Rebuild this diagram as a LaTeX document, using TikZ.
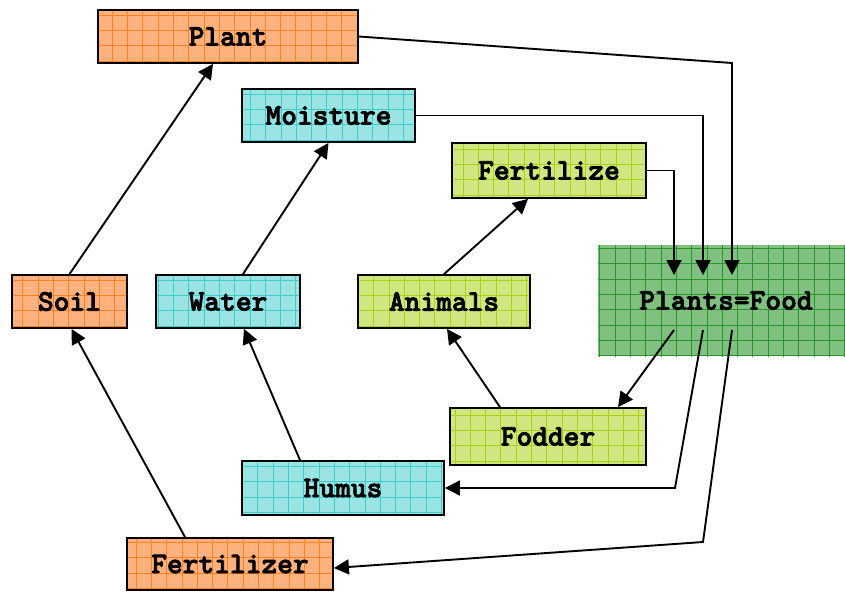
\documentclass[tikz,border=0pt]{standalone}
\usepackage{fontspec}
\newfontfamily\boxfont[FakeBold=2.5]{lmmonolt10-bold.otf}
\usetikzlibrary{arrows.meta,calc}
\definecolor{orfill}{RGB}{255,178,125}
\definecolor{orline}{RGB}{255,130,30}
\definecolor{cyfill}{RGB}{155,228,228}
\definecolor{cyline}{RGB}{60,205,205}
\definecolor{ygfill}{RGB}{208,230,128}
\definecolor{ygline}{RGB}{170,210,20}
\definecolor{grfill}{RGB}{128,192,128}
\definecolor{grline}{RGB}{40,150,40}
\tikzset{
  boxtext/.style={font=\boxfont\fontsize{30}{34}\selectfont},
  gridbox/.style n args={2}{draw=black, line width=1.8pt, fill=#1, inner sep=0pt, boxtext,
    path picture={\draw[#2, line width=0.6pt, step=15.3pt]
      ([xshift=-20pt,yshift=-20pt]path picture bounding box.south west) grid
      ([xshift=20pt,yshift=20pt]path picture bounding box.north east);}},
  orbox/.style={gridbox={orfill}{orline}},
  cybox/.style={gridbox={cyfill}{cyline}},
  ygbox/.style={gridbox={ygfill}{ygline}},
  foodbox/.style={draw=none, fill=grfill, inner sep=0pt, boxtext,
    path picture={\draw[grline, line width=0.7pt, step=15.3pt]
      ([xshift=-20pt,yshift=-20pt]path picture bounding box.south west) grid
      ([xshift=20pt,yshift=20pt]path picture bounding box.north east);}},
  conn/.style={line width=1.9pt, -{Triangle[length=15pt,width=15pt]}}
}
\begin{document}
\begin{tikzpicture}[x=1pt,y=-1pt]
\useasboundingbox (0,0) rectangle (845,592);
\node[foodbox, minimum width=247pt, minimum height=111pt] (food) at (721.5,300.5) {\hspace*{9pt}Plants=Food};
\node[orbox, minimum width=260pt, minimum height=53pt] (plant) at (228,36.5) {Plant};
\node[cybox, minimum width=173pt, minimum height=53pt] (moist) at (328.5,115.5) {Moisture};
\node[ygbox, minimum width=194pt, minimum height=55pt] (fertz) at (549,170.5) {Fertilize};
\node[orbox, minimum width=115pt, minimum height=53pt] (soil) at (69.5,301.5) {Soil};
\node[cybox, minimum width=144pt, minimum height=53pt] (water) at (228,301.5) {Water};
\node[ygbox, minimum width=172pt, minimum height=53pt] (anim) at (444,301.5) {Animals};
\node[ygbox, minimum width=196pt, minimum height=57pt] (fodder) at (548,436.5) {Fodder};
\node[cybox, minimum width=202pt, minimum height=54pt] (humus) at (343,488) {Humus};
\node[orbox, minimum width=206pt, minimum height=52pt] (fertr) at (230,564) {Fertilizer};

\coordinate (in1) at (674,275);
\coordinate (in2) at (703,275);
\coordinate (in3) at (732,275);
\coordinate (o1) at (674,330);
\coordinate (o2) at (703,330);
\coordinate (o3) at (732,330);
\coordinate (k1) at (732,63);
\coordinate (k2) at (675,488);
\coordinate (k3) at (703,542);

\draw[conn] (soil.north) -- ([xshift=-15pt]plant.south);
\draw[conn] ([xshift=15pt]water.north) -- (moist.south);
\draw[conn] (anim.north) -- ([xshift=-21pt]fertz.south);
\draw[conn] ([xshift=-48pt]fodder.north) -- ([xshift=3pt]anim.south);
\draw[conn] ([xshift=-43pt]humus.north) -- ([xshift=16pt]water.south);
\draw[conn] ([xshift=-45pt]fertr.north) -- ([xshift=2pt]soil.south);

\draw[conn] (plant.east) -- (k1) -- (in3);
\draw[conn] (moist.east) -- (moist.east -| in2) -- (in2);
\draw[conn] (fertz.east) -- (fertz.east -| in1) -- (in1);

\draw[conn] (o1) -- ([xshift=70pt]fodder.north);
\draw[conn] (o2) -- (k2) -- (humus.east);
\draw[conn] (o3) -- (k3) -- ([yshift=-4pt]fertr.east);
\end{tikzpicture}
\end{document}
